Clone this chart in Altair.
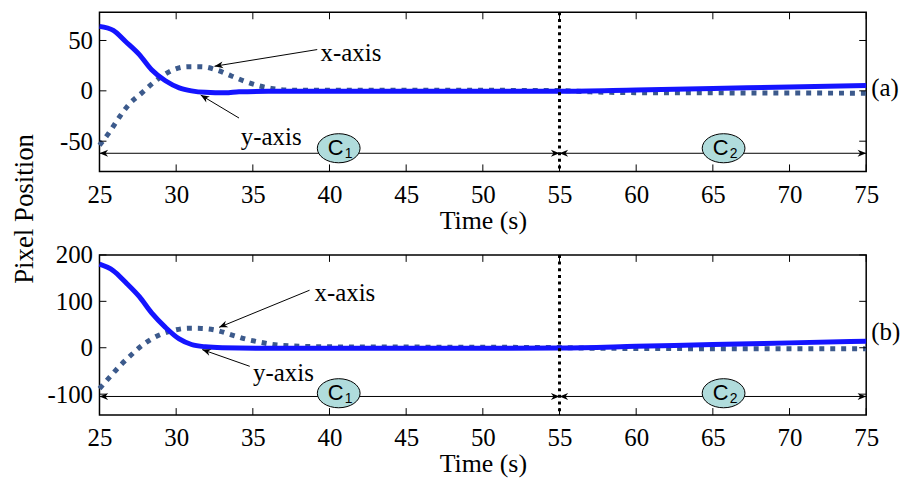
import math
import altair as alt
import pandas as pd

# ---------------- data ----------------
X_DOMAIN = [25, 75]
X_TICKS = [25, 30, 35, 40, 45, 50, 55, 60, 65, 70, 75]
SWITCH_T = 55

# panel (a)
A_Y_DOMAIN = [-80, 78]
A_Y_TICKS = [-50, 0, 50]
a_t_solid = [25, 25.9, 26.7, 27.6, 28.4, 29.3, 30.2, 31.0, 31.9, 33.2, 34.1, 36, 40, 45, 50, 55, 60, 65, 70, 75]
a_v_solid = [64, 60, 49, 36, 21, 10, 3, 0, -1.5, -2, -1, -0.5, -0.5, -0.5, -0.5, -0.5, 0.8, 2.3, 3.9, 5.3]
a_t_dash = [25, 25.65, 26.3, 26.95, 27.8, 28.4, 29.1, 29.9, 30.8, 31.65, 32.7, 33.6, 34.5, 35.4, 36.2, 37.5, 40, 45, 50, 55, 57, 60, 65, 70, 75]
a_v_dash = [-54, -41, -26, -13, -1.6, 6.6, 14.8, 21.4, 24, 24, 20.4, 14.8, 9.3, 5, 2.4, 0.7, 0.5, 0.5, 0.5, 0.3, -1, -1.8, -2, -2.2, -2.3]

# panel (b)
B_Y_DOMAIN = [-145, 200]
B_Y_TICKS = [-100, 0, 100, 200]
b_t_solid = [25, 25.9, 26.7, 27.6, 28.4, 29.3, 30.2, 31.0, 31.9, 33, 36, 40, 45, 50, 55, 60, 65, 70, 75]
b_v_solid = [180, 166, 141, 110, 75, 44, 19, 7, 2, 0, -1, -1, -1, -1, -0.5, 3, 7, 10.5, 14]
b_t_dash = [25, 25.65, 26.3, 26.95, 27.8, 28.4, 29.1, 29.9, 30.8, 31.65, 32.7, 33.6, 34.5, 35.4, 36.2, 37.5, 40, 45, 50, 55, 57, 60, 65, 70, 75]
b_v_dash = [-88, -64, -40, -19, 5.6, 19, 30, 38, 42, 41.7, 37, 28, 19, 12.5, 7.6, 4, 2, 1.5, 1, 0.5, -1, -1.5, -2, -2, -2]

# annotations: (text, text_t, text_v, tail_t, tail_v, tip_t, tip_v)
a_notes = [("x-axis", 41.4, 38, 39.2, 41, 32.5, 24.4),
           ("y-axis", 36.2, -45.7, 34.1, -27, 31.6, -4.2)]
b_notes = [("x-axis", 41.0, 117, 38.7, 124, 32.8, 44),
           ("y-axis", 37.0, -54.5, 34.8, -40, 31.7, -4)]
# phase arrows: (label, sub, start, end, ellipse_t)
PHASES = [("C", "1", 25, 55, 40.6), ("C", "2", 55, 75, 65.7)]
a_phase_v, a_ell_v = -62, -57
b_phase_v, b_ell_v = -105, -98
a_tag, a_tag_v = "(a)", 3
b_tag, b_tag_v = "(b)", 33

# ---------------- style ----------------
W = 771
SERIF = "Liberation Serif"
SANS = "Liberation Sans"
SOLID_COLOR = "#1414ff"
DASH_COLOR = "#3c5a8c"
ELL_FILL = "#b0dcdc"
HEAD = "M 0 0 L -1 -0.4 L -0.7 0 L -1 0.4 Z"
ELLIPSE = "M -1 0 A 1 0.68 0 1 0 1 0 A 1 0.68 0 1 0 -1 0 Z"
FS = 25

X_AXIS = alt.Axis(
    values=X_TICKS, title="Time (s)", labelFlush=False, labelOverlap=False,
    ticks=False, domain=False, grid=False, labelPadding=11, titlePadding=0,
    labelFont=SERIF, labelFontSize=FS, titleFont=SERIF, titleFontSize=26,
    titleFontWeight="normal", labelColor="black", titleColor="black")


def y_axis(ticks):
    return alt.Axis(
        values=ticks, title=None, labelFlush=False, labelOverlap=False,
        labelExpr="toString(datum.value)",
        ticks=False, domain=False, grid=False, labelPadding=7,
        minExtent=54, maxExtent=54,
        labelFont=SERIF, labelFontSize=FS, labelColor="black")


def panel(ts, vs, td, vd, ydom, yticks, H, notes, phase_v, ell_v, tag, tag_v):
    xs = alt.Scale(domain=X_DOMAIN, nice=False, zero=False)
    ys = alt.Scale(domain=ydom, nice=False, zero=False)
    ya = y_axis(yticks)
    px_x = W / (X_DOMAIN[1] - X_DOMAIN[0])
    px_y = H / (ydom[1] - ydom[0])

    def X(f):
        return alt.X(f, scale=xs, axis=X_AXIS)

    def Y(f):
        return alt.Y(f, scale=ys, axis=ya)

    dash = alt.Chart(pd.DataFrame({"t": td, "v": vd})).mark_line(
        color=DASH_COLOR, strokeWidth=5, strokeDash=[5, 6], interpolate="monotone"
    ).encode(x=X("t:Q"), y=Y("v:Q"))
    solid = alt.Chart(pd.DataFrame({"t": ts, "v": vs})).mark_line(
        color=SOLID_COLOR, strokeWidth=5, interpolate="monotone"
    ).encode(x=X("t:Q"), y=Y("v:Q"))

    vline = alt.Chart(pd.DataFrame({"t": [SWITCH_T]})).mark_rule(
        color="black", strokeWidth=3, strokeDash=[3, 3.7]
    ).encode(x=X("t:Q"))

    xt = pd.DataFrame({"t": X_TICKS})
    yt = pd.DataFrame({"v": yticks})
    tick_style = dict(color="black", strokeWidth=1)
    xt_top = alt.Chart(xt).mark_rule(**tick_style).encode(x=X("t:Q"), y=alt.value(0), y2=alt.value(7))
    xt_bot = alt.Chart(xt).mark_rule(**tick_style).encode(x=X("t:Q"), y=alt.value(H - 7), y2=alt.value(H))
    yt_l = alt.Chart(yt).mark_rule(**tick_style).encode(y=Y("v:Q"), x=alt.value(0), x2=alt.value(7))
    yt_r = alt.Chart(yt).mark_rule(**tick_style).encode(y=Y("v:Q"), x=alt.value(W - 7), x2=alt.value(W))

    # phase arrows
    ph = pd.DataFrame({
        "t1": [p[2] for p in PHASES], "t2": [p[3] for p in PHASES],
        "v": [phase_v] * len(PHASES),
    })
    ph_line = alt.Chart(ph).mark_rule(color="black", strokeWidth=1).encode(
        x=X("t1:Q"), x2="t2:Q", y=Y("v:Q"))
    heads_t, heads_v, heads_a = [], [], []
    for p in PHASES:
        heads_t += [p[2], p[3]]
        heads_v += [phase_v, phase_v]
        heads_a += [180, 0]
    for n in notes:
        _, _, _, t0, v0, t1, v1 = n
        dx = (t1 - t0) * px_x
        dy = -(v1 - v0) * px_y
        heads_t.append(t1)
        heads_v.append(v1)
        heads_a.append(math.degrees(math.atan2(dy, dx)) % 360)
    hd = pd.DataFrame({"t": heads_t, "v": heads_v, "a": heads_a})
    heads = alt.Chart(hd).mark_point(
        shape=HEAD, filled=True, color="black", size=300, opacity=1
    ).encode(x=X("t:Q"), y=Y("v:Q"), angle=alt.Angle("a:Q", scale=None))

    ell = pd.DataFrame({
        "t": [p[4] for p in PHASES], "v": [ell_v] * len(PHASES),
        "c": [p[0] for p in PHASES], "s": [p[1] for p in PHASES],
    })
    ellipses = alt.Chart(ell).mark_point(
        shape=ELLIPSE, filled=True, fill=ELL_FILL, stroke="black", strokeWidth=1,
        size=1849, opacity=1, fillOpacity=1
    ).encode(x=X("t:Q"), y=Y("v:Q"))
    c_text = alt.Chart(ell).mark_text(
        font=SANS, fontSize=22, color="black", dx=-3, dy=0, baseline="middle", align="center"
    ).encode(x=X("t:Q"), y=Y("v:Q"), text="c:N")
    c_sub = alt.Chart(ell).mark_text(
        font=SANS, fontSize=14, color="black", dx=10, dy=6, baseline="middle", align="center"
    ).encode(x=X("t:Q"), y=Y("v:Q"), text="s:N")

    nd = pd.DataFrame({
        "label": [n[0] for n in notes], "lt": [n[1] for n in notes], "lv": [n[2] for n in notes],
        "t0": [n[3] for n in notes], "v0": [n[4] for n in notes],
        "t1": [n[5] for n in notes], "v1": [n[6] for n in notes],
    })
    note_lines = alt.Chart(nd).mark_rule(color="black", strokeWidth=1).encode(
        x=X("t0:Q"), x2="t1:Q", y=Y("v0:Q"), y2="v1:Q")
    note_text = alt.Chart(nd).mark_text(
        font=SERIF, fontSize=FS, color="black", baseline="middle", align="center"
    ).encode(x=X("lt:Q"), y=Y("lv:Q"), text="label:N")

    tag_df = pd.DataFrame({"tag": [tag], "v": [tag_v]})
    tag_text = alt.Chart(tag_df).mark_text(
        font=SERIF, fontSize=FS, color="black", baseline="middle", align="left"
    ).encode(x=alt.value(W + 5), y=Y("v:Q"), text="tag:N")

    return alt.layer(
        dash, solid, vline, xt_top, xt_bot, yt_l, yt_r,
        ph_line, note_lines, heads, ellipses, c_text, c_sub, note_text, tag_text
    ).properties(width=W, height=H)


pa = panel(a_t_solid, a_v_solid, a_t_dash, a_v_dash, A_Y_DOMAIN, A_Y_TICKS, 160,
           a_notes, a_phase_v, a_ell_v, a_tag, a_tag_v)
pb = panel(b_t_solid, b_v_solid, b_t_dash, b_v_dash, B_Y_DOMAIN, B_Y_TICKS, 161,
           b_notes, b_phase_v, b_ell_v, b_tag, b_tag_v)

chart = alt.vconcat(
    pa, pb, spacing=8,
    title=alt.Title("Pixel Position", orient="left", anchor="middle", font=SERIF,
                    fontSize=27, fontWeight="normal", color="black", offset=6, dx=35),
).properties(
    padding={"left": 3, "top": 0, "right": 0, "bottom": 0}
).configure(background="white").configure_view(stroke="black", strokeWidth=1.5)

chart.save("out.html", embed_options={"renderer": "svg", "actions": False})
